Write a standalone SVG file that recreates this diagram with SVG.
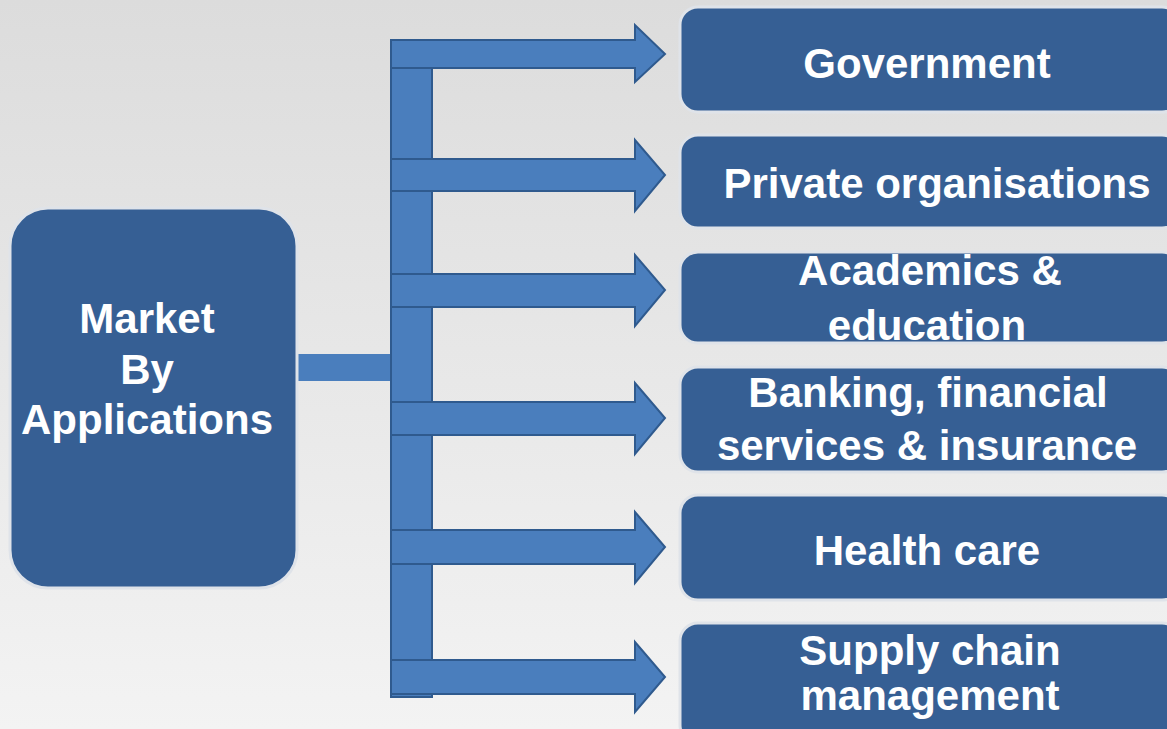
<svg xmlns="http://www.w3.org/2000/svg" width="1167" height="729" viewBox="0 0 1167 729">
<defs>
<linearGradient id="bg" x1="0" y1="0" x2="0" y2="1">
<stop offset="0" stop-color="#dcdcdc"/>
<stop offset="1" stop-color="#f3f3f3"/>
</linearGradient>
</defs>
<style>
.box{fill:#365f94;stroke:#dfe3e9;stroke-width:3}
.arr{fill:#4a7ebd;stroke:#2f5a8e;stroke-width:2;stroke-linejoin:miter}
.t{font-family:"Liberation Sans",Arial,sans-serif;font-weight:bold;font-size:42px;fill:#ffffff;text-anchor:middle}
</style>
<rect x="0" y="0" width="1167" height="729" fill="url(#bg)"/>
<g id="connectors">
<rect class="arr" x="296" y="354" width="96" height="27" style="stroke:none"/>
<rect class="arr" x="391" y="40" width="41" height="657"/>
<polygon class="arr" points="391,40 635,40 635,25 665,54 635,82 635,68 391,68"/>
<polygon class="arr" points="391,159 635,159 635,140 665,175 635,211 635,191 391,191"/>
<polygon class="arr" points="391,274 635,274 635,255 665,290 635,326 635,307 391,307"/>
<polygon class="arr" points="391,402 635,402 635,383 665,418 635,454 635,435 391,435"/>
<polygon class="arr" points="391,530 635,530 635,512 665,547 635,583 635,564 391,564"/>
<polygon class="arr" points="391,660 635,660 635,642 665,677 635,712 635,694 391,694"/>
</g>
<g id="root">
<rect class="box" x="10" y="208" width="287" height="380" rx="38"/>
<text class="t" x="147" y="333">Market</text>
<text class="t" x="147" y="384">By</text>
<text class="t" x="147" y="434">Applications</text>
</g>
<g id="government">
<rect class="box" x="680" y="7" width="500" height="105" rx="18"/>
<text class="t" x="927" y="78">Government</text>
</g>
<g id="private">
<rect class="box" x="680" y="135" width="500" height="93" rx="18"/>
<text class="t" x="937" y="198">Private organisations</text>
</g>
<g id="academics">
<rect class="box" x="680" y="252" width="500" height="91" rx="18"/>
<text class="t" x="930" y="285">Academics &amp;</text>
<text class="t" x="927" y="340">education</text>
</g>
<g id="banking">
<rect class="box" x="680" y="367" width="500" height="105" rx="18"/>
<text class="t" x="928" y="407">Banking, financial</text>
<text class="t" x="927" y="460">services &amp; insurance</text>
</g>
<g id="healthcare">
<rect class="box" x="680" y="495" width="500" height="105" rx="18"/>
<text class="t" x="927" y="565">Health care</text>
</g>
<g id="supplychain">
<rect class="box" x="680" y="623" width="500" height="120" rx="18"/>
<text class="t" x="930" y="665">Supply chain</text>
<text class="t" x="930" y="710">management</text>
</g>
</svg>
